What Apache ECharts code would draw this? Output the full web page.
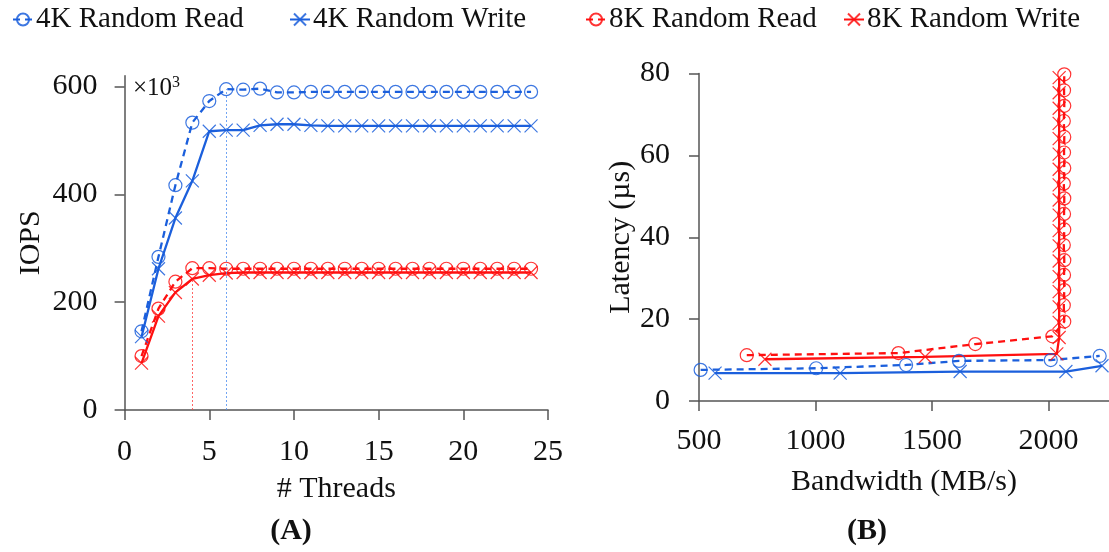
<!DOCTYPE html>
<html>
<head>
<meta charset="utf-8">
<script src="https://cdn.jsdelivr.net/npm/echarts@6/dist/echarts.min.js"></script>
<style>
  html, body { margin: 0; padding: 0; background: #fff; }
  #chart { width: 1109px; height: 552px; }
</style>
</head>
<body>
<div id="chart"></div>
<script>
// Panel A: IOPS (thousands) against number of threads
const threads = [1, 2, 3, 4, 5, 6, 7, 8, 9, 10, 11, 12, 13, 14, 15, 16, 17, 18, 19, 20, 21, 22, 23, 24];
const iops4kRead  = [146, 284, 417, 533, 573, 595, 594, 596, 589, 589, 590, 590, 590, 590, 590, 590, 590, 590, 590, 590, 590, 590, 590, 590];
const iops4kWrite = [136, 262, 356, 425, 517, 519, 519, 528, 530, 530, 528, 527, 527, 527, 527, 527, 527, 527, 527, 527, 527, 527, 527, 527];
const iops8kRead  = [100, 188, 238, 263, 263, 262, 262, 262, 262, 262, 262, 262, 262, 262, 262, 262, 262, 262, 262, 262, 262, 262, 262, 262];
const iops8kWrite = [87, 174, 218, 243, 250, 254, 255, 255, 255, 255, 255, 255, 255, 255, 255, 255, 255, 255, 255, 255, 255, 255, 255, 255];
// thread counts where each block size saturates
const knee4k = 6;
const knee8k = 4;

// Panel B: latency (µs) against bandwidth (MB/s)
const bw4kRead   = [507, 1003, 1389, 1616, 2010, 2220];
const lat4kRead  = [7.6, 8.0, 8.8, 9.8, 10.0, 11.0];
const bw4kWrite  = [569, 1106, 1621, 2075, 2230];
const lat4kWrite = [6.8, 6.8, 7.2, 7.2, 8.6];
const bw8kRead   = [705, 1356, 1686, 2017, 2068, 2066, 2068, 2067, 2068, 2066, 2068, 2067, 2068, 2066, 2068, 2067, 2068, 2066, 2068, 2067, 2068];
const lat8kRead  = [11.2, 11.7, 13.9, 15.8, 19.4, 23.4, 27.1, 30.8, 34.4, 38.1, 41.9, 45.7, 49.5, 53.1, 56.9, 60.7, 64.5, 68.4, 72.1, 75.9, 79.8];
const bw8kWrite  = [783, 1471, 2036, 2046, 2046, 2046, 2046, 2046, 2046, 2046, 2046, 2046, 2046, 2046, 2046, 2046, 2046, 2046, 2046, 2046, 2046];
const lat8kWrite = [10.2, 10.8, 11.5, 15.5, 19.2, 23.0, 26.7, 30.4, 34.2, 37.9, 41.6, 45.4, 49.1, 52.8, 56.6, 60.3, 64.1, 67.8, 71.5, 75.3, 79.0];

// Tick labels
const threadTicks = [0, 5, 10, 15, 20, 25];
const iopsTicks = [0, 200, 400, 600];
const bwTicks = [500, 1000, 1500, 2000];
const latTicks = [0, 20, 40, 60, 80];

const seriesNames = ['4K Random Read', '4K Random Write', '8K Random Read', '8K Random Write'];
const legendLeft = [7, 284, 580, 838];

const BLUE = '#1b5fdc';
const RED = '#ff1010';
const AXIS = '#555555';
const FONT = '"Liberation Serif", "DejaVu Serif", serif';

const CIRCLE = 'circle';
const CROSS = 'path://M0 0L10 10M10 0L0 10';

function pairs(xs, ys) { return xs.map((x, i) => [x, ys[i]]); }

function line(name, axisIdx, data, color, dashed, symbol, extra) {
  return Object.assign({
    name: name,
    type: 'line',
    xAxisIndex: axisIdx,
    yAxisIndex: axisIdx,
    data: data,
    symbol: symbol,
    symbolSize: 13,
    showAllSymbol: true,
    clip: true,
    lineStyle: { color: color, width: 2.3, type: dashed ? [7, 5] : 'solid' },
    itemStyle: { color: 'rgba(0,0,0,0)', borderColor: color, borderWidth: 1.2, opacity: 0.85 },
    emphasis: { disabled: true },
    animation: false
  }, extra || {});
}

function kneeMark(x, top, color) {
  return {
    markLine: {
      silent: true,
      symbol: 'none',
      label: { show: false },
      lineStyle: { color: color, width: 1, type: [2, 2], opacity: 0.8 },
      data: [[{ coord: [x, 0] }, { coord: [x, top] }]]
    }
  };
}

function ticks(values, margin, formatter) {
  return {
    axisLabel: { color: '#111', fontFamily: FONT, fontSize: 30, margin: margin, customValues: values,
                 formatter: formatter || (v => String(v)) },
    axisTick: { show: true, length: 10, lineStyle: { color: AXIS, width: 1.5 }, customValues: values }
  };
}

function valueAxis(gridIndex, opts) {
  return Object.assign({
    type: 'value',
    gridIndex: gridIndex,
    splitLine: { show: false },
    axisLine: { show: true, onZero: false, lineStyle: { color: AXIS, width: 1.5 } },
    nameLocation: 'middle',
    nameTextStyle: { color: '#111', fontFamily: FONT, fontSize: 30 }
  }, opts);
}

const option = {
  backgroundColor: '#fff',
  animation: false,
  legend: seriesNames.map((n, i) => ({
    left: legendLeft[i],
    top: 0,
    itemWidth: 20,
    itemHeight: 15,
    itemGap: 0,
    textStyle: { color: '#111', fontFamily: FONT, fontSize: 29, padding: [0, 0, 0, -2] },
    data: [n]
  })),
  grid: [
    { left: 124.6, top: 75.7, width: 423.4, height: 334.3 },
    { left: 699, top: 73.5, width: 410, height: 327.5 }
  ],
  xAxis: [
    valueAxis(0, Object.assign({ min: 0, max: 25, interval: 5, name: '# Threads', nameGap: 64 },
      ticks(threadTicks, 27))),
    valueAxis(1, Object.assign({ min: 500, max: 2260, interval: 500, name: 'Bandwidth (MB/s)', nameGap: 66 },
      ticks(bwTicks, 25)))
  ],
  yAxis: [
    valueAxis(0, Object.assign({ min: 0, max: 620, interval: 200, name: 'IOPS', nameGap: 78 },
      ticks(iopsTicks, 27))),
    valueAxis(1, Object.assign({ min: 0, max: 80, interval: 20, name: 'Latency (µs)', nameGap: 62 },
      ticks(latTicks, 29)))
  ],
  graphic: [
    { type: 'text', left: 133, top: 75, style: {
        text: '×10{s|3}', fill: '#111', font: '25px ' + FONT,
        rich: { s: { fontSize: 16, verticalAlign: 'top', fontFamily: FONT, padding: [0, 0, 10, 0] } } } },
    { type: 'text', x: 291, y: 531, style: { text: '(A)', fill: '#111', font: 'bold 30px ' + FONT, textAlign: 'center', textVerticalAlign: 'middle' } },
    { type: 'text', x: 867, y: 531, style: { text: '(B)', fill: '#111', font: 'bold 30px ' + FONT, textAlign: 'center', textVerticalAlign: 'middle' } }
  ],
  series: [
    line(seriesNames[0], 0, pairs(threads, iops4kRead), BLUE, true, CIRCLE,
      kneeMark(knee4k, iops4kRead[knee4k - 1], '#4f8ef0')),
    line(seriesNames[1], 0, pairs(threads, iops4kWrite), BLUE, false, CROSS),
    line(seriesNames[2], 0, pairs(threads, iops8kRead), RED, true, CIRCLE),
    line(seriesNames[3], 0, pairs(threads, iops8kWrite), RED, false, CROSS,
      kneeMark(knee8k, iops8kWrite[knee8k - 1], '#ff4040')),
    line(seriesNames[0], 1, pairs(bw4kRead, lat4kRead), BLUE, true, CIRCLE),
    line(seriesNames[1], 1, pairs(bw4kWrite, lat4kWrite), BLUE, false, CROSS),
    line(seriesNames[2], 1, pairs(bw8kRead, lat8kRead), RED, true, CIRCLE),
    line(seriesNames[3], 1, pairs(bw8kWrite, lat8kWrite), RED, false, CROSS)
  ]
};

const chart = echarts.init(document.getElementById('chart'), null, { renderer: 'canvas' });
chart.setOption(option);
</script>
</body>
</html>
